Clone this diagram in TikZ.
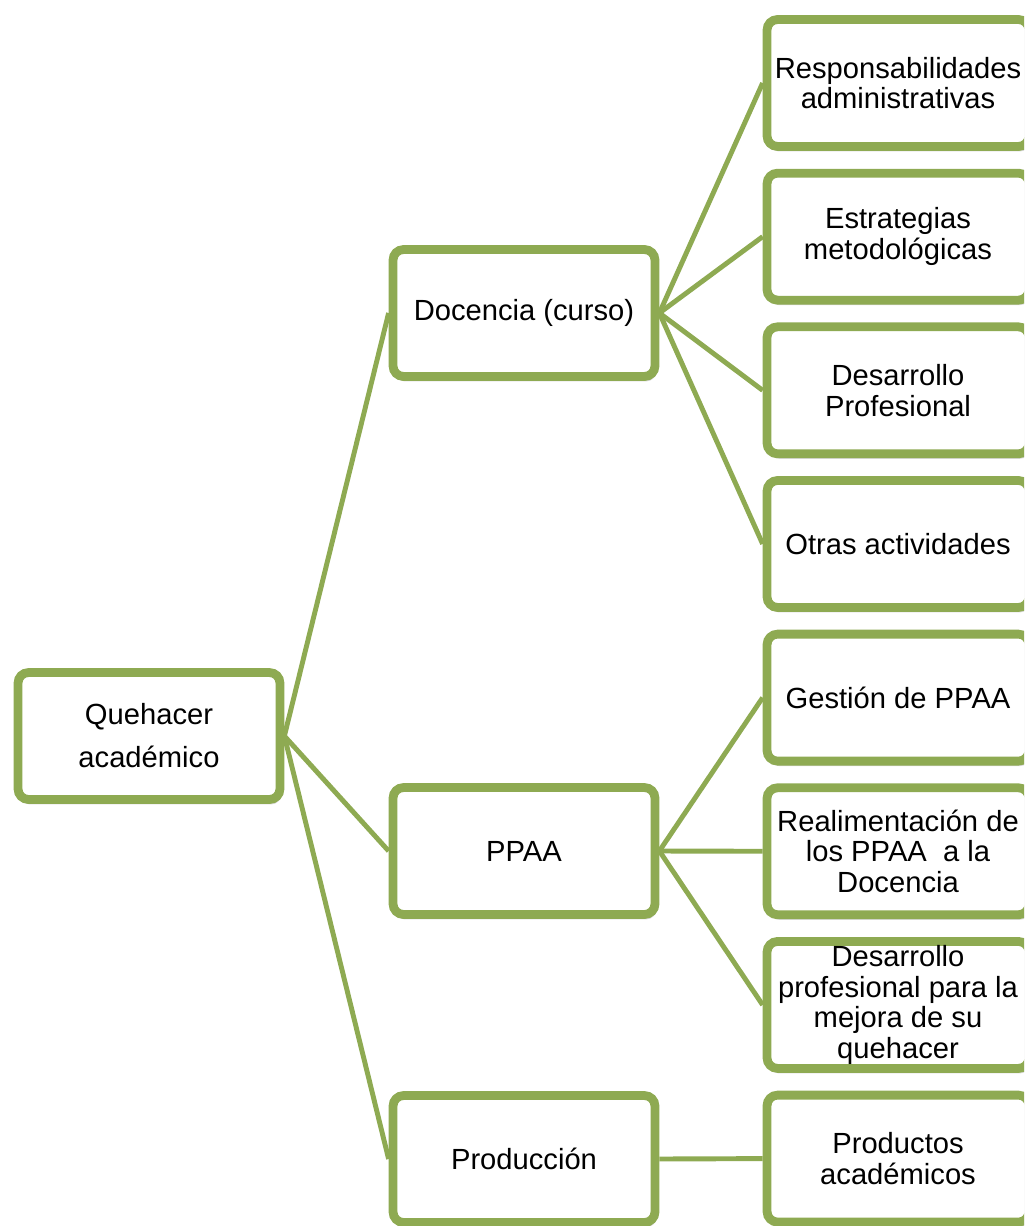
\documentclass[tikz,border=0pt]{standalone}
\usepackage{fontspec}
\setmainfont{Liberation Sans}
\usepackage{tikz}
\usetikzlibrary{positioning}
\usetikzlibrary{shadows}
\definecolor{olivegreen}{RGB}{142,170,82}
\tikzstyle{box} = [draw=olivegreen,line width=5pt,rounded corners=6pt,fill=white,minimum width=5.24cm,minimum height=2.54cm,inner sep=0pt,align=center,font=\fontsize{16.6}{17.4}\selectfont,drop shadow={opacity=0.3,shadow xshift=0.3mm,shadow yshift=-1mm}]
\tikzstyle{link} = [olivegreen,line width=2.8pt]

\begin{document}
\begin{tikzpicture}[x=0.02cm,y=-0.02cm]
					\useasboundingbox (0,0) rectangle (1024,1226);
					\clip (0,0) rectangle (1024,1226);
					
					%Nodes
					\node [box, font=\fontsize{16.6}{24.5}\selectfont] (Quehacer) at (149,736) {Quehacer\\acad\'emico};
					\node [box] (Docencia) at (524,313) {Docencia (curso)};
					\node [box] (PPAA) at (524,851) {PPAA};
					\node [box] (Produccion) at (524,1159) {Producci\'on};
					
					\node [box] (Resp) at (898,83) {Responsabilidades\\administrativas};
					\node [box, below=0.358cm of Resp] (Estrat) {Estrategias\\metodol\'ogicas};
					\node [box, below=0.358cm of Estrat] (DesProf) {Desarrollo\\Profesional};
					\node [box, below=0.358cm of DesProf] (Otras) {Otras actividades};
					\node [box, below=0.358cm of Otras] (Gestion) {Gesti\'on de PPAA};
					\node [box, below=0.358cm of Gestion] (Realim) {Realimentaci\'on de\\los PPAA~ a la\\Docencia};
					\node [box, below=0.358cm of Realim] (DesMejora) {Desarrollo\\profesional para la\\mejora de su\\quehacer};
					\node [box, below=0.358cm of DesMejora] (Productos) {Productos\\acad\'emicos};
					
					%Lines
					\draw[link] (Quehacer.east) -- (Docencia.west);
					\draw[link] (Quehacer.east) -- (PPAA.west);
					\draw[link] (Quehacer.east) -- (Produccion.west);
					\draw[link] (Docencia.east) -- (Resp.west);
					\draw[link] (Docencia.east) -- (Estrat.west);
					\draw[link] (Docencia.east) -- (DesProf.west);
					\draw[link] (Docencia.east) -- (Otras.west);
					\draw[link] (PPAA.east) -- (Gestion.west);
					\draw[link] (PPAA.east) -- (Realim.west);
					\draw[link] (PPAA.east) -- (DesMejora.west);
					\draw[link] (Produccion.east) -- (Productos.west);
				\end{tikzpicture}
\end{document}
